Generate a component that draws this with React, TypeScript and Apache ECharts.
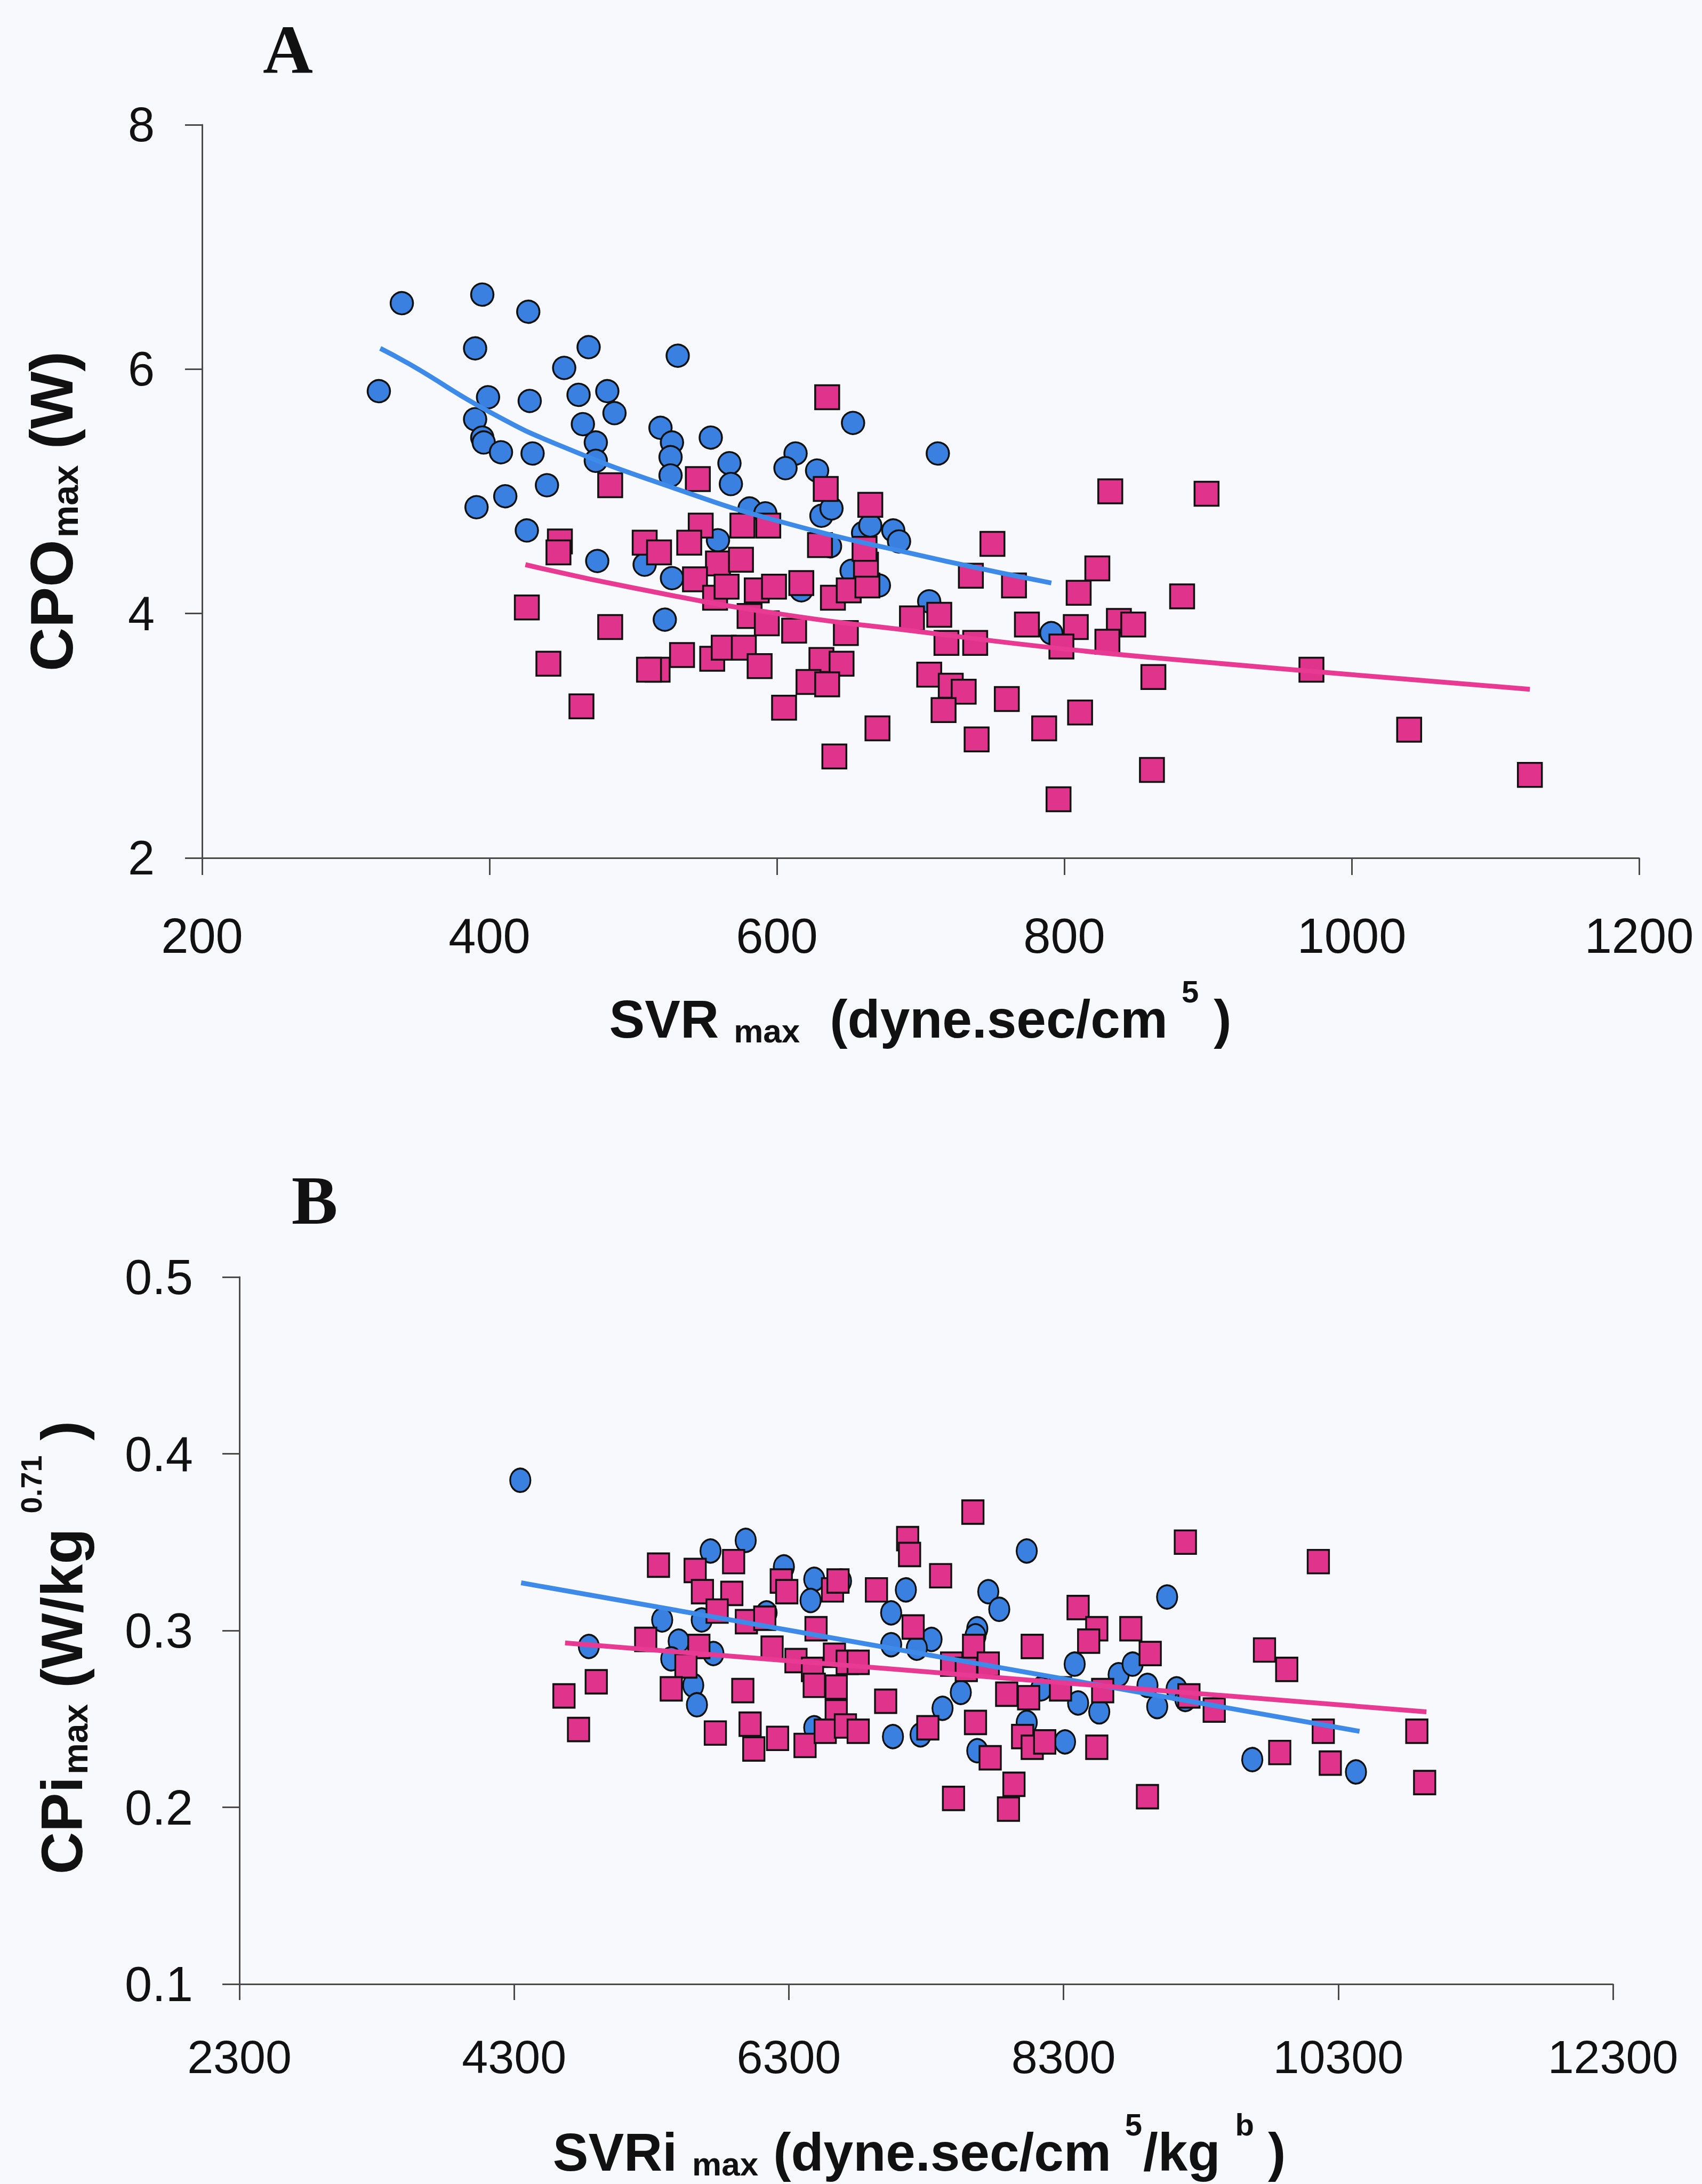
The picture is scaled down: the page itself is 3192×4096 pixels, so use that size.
import React, { useEffect, useRef } from 'react';
import * as echarts from 'echarts';

// ---------- Panel A data ----------
const A_X_TICKS = [200, 400, 600, 800, 1000, 1200];
const A_Y_TICKS = [2, 4, 6, 8];

const A_CIRCLES: number[][] = [
  [323, 5.82], [339, 6.54], [395, 6.61], [427, 6.47], [390, 6.17], [469, 6.18], [531, 6.11],
  [452, 6.01], [399, 5.77], [428, 5.74], [462, 5.79], [482, 5.82], [487, 5.64], [390, 5.59],
  [465, 5.55], [395, 5.44], [396, 5.40], [408, 5.32], [430, 5.31], [474, 5.40], [474, 5.25],
  [519, 5.52], [527, 5.40], [526, 5.28], [526, 5.13], [554, 5.44], [567, 5.23], [568, 5.06],
  [613, 5.31], [606, 5.19], [628, 5.17], [653, 5.56], [440, 5.05], [411, 4.96], [391, 4.87],
  [426, 4.68], [475, 4.43], [559, 4.60], [508, 4.40], [527, 4.29], [581, 4.86], [592, 4.82],
  [631, 4.80], [638, 4.86], [637, 4.55], [660, 4.66], [681, 4.68], [685, 4.59], [671, 4.23],
  [652, 4.35], [522, 3.95], [617, 4.19], [712, 5.31], [706, 4.10], [791, 3.84], [665, 4.72],
];

const A_SQUARES: number[][] = [
  [635, 5.77], [484, 5.05], [545, 5.10], [634, 5.02], [665, 4.89], [576, 4.72], [594, 4.72],
  [547, 4.72], [449, 4.59], [448, 4.50], [508, 4.58], [518, 4.50], [539, 4.58], [559, 4.41],
  [575, 4.44], [543, 4.28], [557, 4.13], [565, 4.22], [586, 4.19], [598, 4.22], [617, 4.25],
  [630, 4.56], [639, 4.13], [650, 4.19], [663, 4.23], [662, 4.40], [661, 4.53], [581, 3.98],
  [593, 3.92], [612, 3.86], [648, 3.84], [694, 3.96], [426, 4.05], [484, 3.89], [441, 3.59],
  [534, 3.66], [517, 3.54], [555, 3.63], [563, 3.72], [577, 3.72], [588, 3.57], [631, 3.62],
  [645, 3.59], [622, 3.44], [635, 3.42], [605, 3.23], [464, 3.24], [670, 3.06], [640, 2.83],
  [511, 3.54],
  [832, 5.00], [899, 4.98], [750, 4.57], [823, 4.37], [735, 4.31], [765, 4.23], [810, 4.17],
  [882, 4.14], [713, 3.99], [774, 3.91], [808, 3.89], [838, 3.94], [848, 3.91], [718, 3.76],
  [738, 3.76], [798, 3.73], [830, 3.77], [862, 3.48], [972, 3.54], [706, 3.50], [721, 3.41],
  [730, 3.36], [716, 3.21], [760, 3.30], [811, 3.19], [786, 3.06], [739, 2.97], [1040, 3.05],
  [861, 2.72], [1124, 2.68], [796, 2.48],
];

const A_BLUE_TREND: number[][] = [
  [324, 6.17], [346, 6.03], [400, 5.65], [450, 5.37], [530, 5.02], [600, 4.76], [698, 4.48], [791, 4.25],
];
const A_PINK_TREND: number[][] = [
  [425, 4.40], [500, 4.21], [600, 4.00], [700, 3.85], [800, 3.71], [900, 3.60], [1000, 3.50], [1124, 3.38],
];

// ---------- Panel B data ----------
const B_X_TICKS = [2300, 4300, 6300, 8300, 10300, 12300];
const B_Y_TICKS = [0.1, 0.2, 0.3, 0.4, 0.5];

const B_CIRCLES: number[][] = [
  [4345, 0.385], [5986, 0.351], [5730, 0.345], [6264, 0.336], [6485, 0.329], [6680, 0.328],
  [6458, 0.317], [7152, 0.323], [8032, 0.345], [7752, 0.322], [7832, 0.312], [7045, 0.310],
  [6138, 0.310], [5378, 0.306], [5666, 0.306], [7672, 0.301], [7659, 0.297], [7339, 0.295],
  [7045, 0.292], [7232, 0.290], [4844, 0.291], [5498, 0.294], [5751, 0.287], [5444, 0.284],
  [5604, 0.269], [5631, 0.258], [7552, 0.265], [7419, 0.256], [7058, 0.240], [7259, 0.241],
  [7672, 0.232], [8032, 0.248], [8152, 0.268], [6485, 0.245],
  [9054, 0.319], [8381, 0.281], [8701, 0.275], [8803, 0.281], [8911, 0.269], [9123, 0.267],
  [8982, 0.257], [8406, 0.259], [8560, 0.254], [8137, 0.267], [8311, 0.237], [9674, 0.227],
  [10429, 0.220], [9187, 0.261],
];

const B_SQUARES: number[][] = [
  [7640, 0.367], [5351, 0.337], [5618, 0.334], [5898, 0.339], [7165, 0.352], [7179, 0.343],
  [7405, 0.331], [5671, 0.322], [5885, 0.321], [6245, 0.328], [6285, 0.322], [6618, 0.323],
  [6658, 0.328], [6938, 0.323], [5778, 0.311], [5991, 0.305], [6125, 0.307], [6498, 0.301],
  [7205, 0.302], [5258, 0.295], [5645, 0.291], [6178, 0.290], [6352, 0.283], [6472, 0.278],
  [6632, 0.286], [6725, 0.282], [6805, 0.282], [8072, 0.291], [7485, 0.281], [7645, 0.291],
  [7752, 0.281], [5551, 0.280], [4898, 0.271], [5444, 0.267], [5965, 0.266], [6485, 0.269],
  [6645, 0.268], [4663, 0.263], [7005, 0.260], [7886, 0.264], [8046, 0.262], [7592, 0.278],
  [6645, 0.254], [4769, 0.244], [5765, 0.242], [6018, 0.247], [6045, 0.233], [6218, 0.239],
  [6418, 0.235], [6565, 0.243], [6712, 0.246], [6805, 0.243], [7312, 0.245], [7659, 0.248],
  [7766, 0.228], [8002, 0.240], [8072, 0.234], [7499, 0.205], [7939, 0.213], [7899, 0.199],
  [9187, 0.350], [10155, 0.339], [8406, 0.313], [8542, 0.301], [8483, 0.294], [8790, 0.301],
  [8931, 0.287], [9763, 0.289], [9925, 0.278], [8278, 0.267], [8585, 0.266], [9213, 0.263],
  [9397, 0.255], [10191, 0.243], [10872, 0.243], [8163, 0.237], [8542, 0.234], [9874, 0.231],
  [10242, 0.225], [10929, 0.214], [8911, 0.206],
];

const B_BLUE_TREND: number[][] = [[4351, 0.327], [10455, 0.243]];
const B_PINK_TREND: number[][] = [[4671, 0.293], [10942, 0.254]];

// ---------- styles ----------
const SANS = "'Liberation Sans', Arial, sans-serif";
const SERIF = "'Liberation Serif', 'Times New Roman', serif";
const INK = '#111111';
const AXIS = '#4a4a4a';
const BLUE = '#3a80e0';
const PINK = '#e0338c';
const BLUE_LINE = '#3d8ae8';
const PINK_LINE = '#e83a92';

type Frag = { t: string; size: number; base: number; pad: number };

function axisCommon(labelSize: number, margin: number) {
  return {
    type: 'value' as const,
    splitLine: { show: false },
    axisLine: { show: true, lineStyle: { color: AXIS, width: 3 } },
    axisTick: { show: true, inside: false, length: 32, lineStyle: { color: AXIS, width: 3 } },
    axisLabel: { color: INK, fontFamily: SANS, fontSize: labelSize, margin, formatter: (v: number) => String(v) },
  };
}

// Builds a title from fragments laid out along a baseline, centred on (x, y) = baseline centre.
function titleGroup(x: number, y: number, rotation: number, frags: Frag[]) {
  const ctx = document.createElement('canvas').getContext('2d')!;
  const widths = frags.map((f) => {
    ctx.font = `bold ${f.size}px ${SANS}`;
    return ctx.measureText(f.t).width;
  });
  const total = frags.reduce((acc, f, i) => acc + f.pad + widths[i], 0);
  let cur = -total / 2;
  const children = frags.map((f, i) => {
    cur += f.pad;
    const el = {
      type: 'text',
      x: cur,
      y: f.base - 0.3465 * f.size,
      style: {
        text: f.t, fontSize: f.size, fontWeight: 'bold', fontFamily: SANS, fill: INK,
        align: 'left', verticalAlign: 'middle',
      },
    };
    cur += widths[i];
    return el;
  });
  return { type: 'group', x, y, rotation, z: 10, children };
}

export default function App() {
  const ref = useRef<HTMLDivElement>(null);
  useEffect(() => {
    if (!ref.current) return;
    const chart = echarts.init(ref.current, undefined, { renderer: 'svg' });
    const scatterStyle = (color: string) => ({ color, borderColor: INK, borderWidth: 3.5, opacity: 1 });
    const option: any = {
      animation: false,
      backgroundColor: '#f8f9fd',
      grid: [
        { left: 379, top: 234, width: 2695, height: 1375, containLabel: false, outerBoundsMode: 'none' },
        { left: 449, top: 2395, width: 2576, height: 1326, containLabel: false, outerBoundsMode: 'none' },
      ],
      xAxis: [
        {
          ...axisCommon(92, 100),
          gridIndex: 0,
          min: A_X_TICKS[0],
          max: A_X_TICKS[A_X_TICKS.length - 1],
          interval: A_X_TICKS[1] - A_X_TICKS[0],
        },
        {
          ...axisCommon(88, 92),
          gridIndex: 1,
          min: B_X_TICKS[0],
          max: B_X_TICKS[B_X_TICKS.length - 1],
          axisTick: { show: true, length: 30, lineStyle: { color: AXIS, width: 3 }, customValues: B_X_TICKS },
          axisLabel: {
            color: INK, fontFamily: SANS, fontSize: 88, margin: 92, customValues: B_X_TICKS,
            formatter: (v: number) => String(v),
          },
        },
      ],
      yAxis: [
        {
          ...axisCommon(90, 89),
          gridIndex: 0,
          min: A_Y_TICKS[0],
          max: A_Y_TICKS[A_Y_TICKS.length - 1],
          interval: A_Y_TICKS[1] - A_Y_TICKS[0],
        },
        {
          ...axisCommon(92, 87),
          gridIndex: 1,
          min: B_Y_TICKS[0],
          max: B_Y_TICKS[B_Y_TICKS.length - 1],
          axisTick: { show: true, length: 32, lineStyle: { color: AXIS, width: 3 }, customValues: B_Y_TICKS },
          axisLabel: {
            color: INK, fontFamily: SANS, fontSize: 92, margin: 87, customValues: B_Y_TICKS,
            formatter: (v: number) => v.toFixed(1),
          },
        },
      ],
      series: [
        { type: 'scatter', xAxisIndex: 0, yAxisIndex: 0, symbol: 'circle', symbolSize: 42, data: A_CIRCLES, itemStyle: scatterStyle(BLUE), z: 2 },
        { type: 'scatter', xAxisIndex: 0, yAxisIndex: 0, symbol: 'rect', symbolSize: 45, data: A_SQUARES, itemStyle: scatterStyle(PINK), z: 3 },
        { type: 'line', xAxisIndex: 0, yAxisIndex: 0, data: A_BLUE_TREND, smooth: true, showSymbol: false, symbol: 'none', lineStyle: { color: BLUE_LINE, width: 9 }, z: 4 },
        { type: 'line', xAxisIndex: 0, yAxisIndex: 0, data: A_PINK_TREND, smooth: true, showSymbol: false, symbol: 'none', lineStyle: { color: PINK_LINE, width: 9 }, z: 4 },
        { type: 'scatter', xAxisIndex: 1, yAxisIndex: 1, symbol: 'circle', symbolSize: [38, 44], data: B_CIRCLES, itemStyle: scatterStyle(BLUE), z: 2 },
        { type: 'scatter', xAxisIndex: 1, yAxisIndex: 1, symbol: 'rect', symbolSize: [40, 44], data: B_SQUARES, itemStyle: scatterStyle(PINK), z: 3 },
        { type: 'line', xAxisIndex: 1, yAxisIndex: 1, data: B_BLUE_TREND, showSymbol: false, symbol: 'none', lineStyle: { color: BLUE_LINE, width: 9 }, z: 4 },
        { type: 'line', xAxisIndex: 1, yAxisIndex: 1, data: B_PINK_TREND, showSymbol: false, symbol: 'none', lineStyle: { color: PINK_LINE, width: 9 }, z: 4 },
      ],
      graphic: [
        {
          type: 'text', x: 540, y: 92, z: 10,
          style: { text: 'A', fontFamily: SERIF, fontWeight: 'bold', fontSize: 130, fill: INK, align: 'center', verticalAlign: 'middle' },
        },
        {
          type: 'text', x: 590, y: 2251, z: 10,
          style: { text: 'B', fontFamily: SERIF, fontWeight: 'bold', fontSize: 130, fill: INK, align: 'center', verticalAlign: 'middle' },
        },
        titleGroup(1726, 1946, 0, [
          { t: 'SVR', size: 100, base: 0, pad: 0 },
          { t: 'max', size: 62, base: 9, pad: 28 },
          { t: '(dyne.sec/cm', size: 100, base: 0, pad: 56 },
          { t: '5', size: 58, base: -66, pad: 26 },
          { t: ')', size: 100, base: 0, pad: 28 },
        ]),
        titleGroup(136, 959, Math.PI / 2, [
          { t: 'CPO', size: 114, base: 0, pad: 0 },
          { t: 'max', size: 68, base: 10, pad: 4 },
          { t: '(W)', size: 114, base: 0, pad: 30 },
        ]),
        titleGroup(1724, 4071, 0, [
          { t: 'SVRi', size: 100, base: 0, pad: 0 },
          { t: 'max', size: 62, base: 9, pad: 28 },
          { t: '(dyne.sec/cm', size: 100, base: 0, pad: 28 },
          { t: '5', size: 58, base: -66, pad: 26 },
          { t: '/kg', size: 100, base: 0, pad: 2 },
          { t: 'b', size: 58, base: -66, pad: 28 },
          { t: ')', size: 100, base: 0, pad: 26 },
        ]),
        titleGroup(154, 3090, Math.PI / 2, [
          { t: 'CPi', size: 110, base: 0, pad: 0 },
          { t: 'max', size: 66, base: 10, pad: 4 },
          { t: '(W/kg', size: 110, base: 0, pad: 30 },
          { t: '0.71', size: 56, base: -76, pad: 28 },
          { t: ')', size: 110, base: 0, pad: 28 },
        ]),
      ],
    };
    chart.setOption(option);
    return () => chart.dispose();
  }, []);
  return (
    <div
      ref={ref}
      style={{ position: 'absolute', left: 0, top: 0, width: 3192, height: 4096, background: '#f8f9fd' }}
    />
  );
}
